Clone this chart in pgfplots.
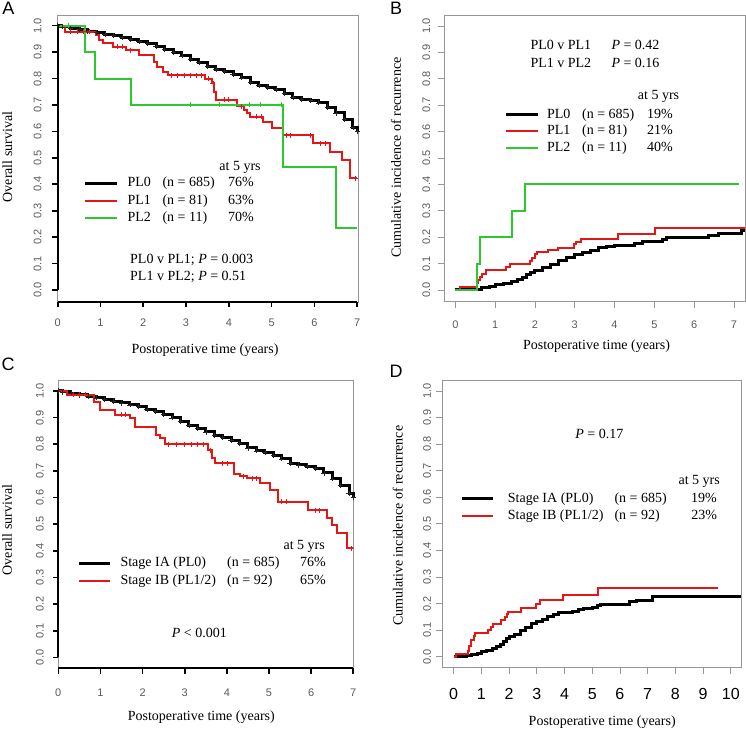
\documentclass[border=0pt]{standalone}
\usepackage{fontspec}
\setmainfont{Liberation Serif}
\newfontfamily\arial{Liberation Sans}
\usepackage{pgfplots}
\usepackage{pgfplotstable}
\pgfplotsset{compat=1.18}

\definecolor{kmred}{RGB}{228,22,22}
\definecolor{kmgreen}{RGB}{45,200,45}
\definecolor{boxgray}{RGB}{150,150,150}
\definecolor{labgray}{RGB}{90,90,90}

\newcommand{\tf}{\fontsize{14}{16}\selectfont}
\newcommand{\tkf}{\arial\fontsize{11}{12}\selectfont}

% overall survival, PL0 (used in A and C)
\pgfplotstableread{
x y
0 1.000
0.1 0.996
0.3 0.990
0.5 0.985
0.7 0.979
0.9 0.974
1.1 0.968
1.3 0.962
1.5 0.955
1.7 0.948
1.9 0.941
2.1 0.932
2.3 0.922
2.5 0.911
2.7 0.899
2.9 0.886
3.1 0.872
3.3 0.860
3.5 0.846
3.7 0.834
3.9 0.826
4.1 0.815
4.3 0.803
4.5 0.786
4.7 0.775
4.9 0.768
5.1 0.758
5.3 0.745
5.5 0.729
5.7 0.722
5.9 0.718
6.1 0.708
6.3 0.692
6.5 0.670
6.7 0.645
6.9 0.615
7.0 0.600
}\osPLzero

\pgfplotstableread{
x y
0 1.000
0.18 0.977
0.90 0.965
0.97 0.946
1.05 0.933
1.30 0.920
1.60 0.908
1.90 0.889
2.25 0.864
2.31 0.845
2.45 0.826
2.58 0.813
3.45 0.800
3.60 0.782
3.66 0.750
3.70 0.720
4.18 0.695
4.35 0.680
4.42 0.668
4.50 0.656
4.80 0.637
5.00 0.612
5.27 0.586
5.97 0.555
6.36 0.523
6.64 0.492
6.83 0.422
7.00 0.422
}\osPLone

\pgfplotstableread{
x y
0.30 0.977
0.45 0.977
0.60 0.977
0.75 0.977
1.40 0.920
1.50 0.920
1.70 0.908
2.65 0.813
2.80 0.813
2.95 0.813
3.10 0.813
3.25 0.813
3.35 0.813
3.52 0.800
3.63 0.782
3.90 0.720
4.00 0.720
4.30 0.695
4.65 0.656
4.75 0.656
5.35 0.586
5.45 0.586
5.90 0.586
6.15 0.555
6.25 0.555
6.95 0.422
}\osPLonecens

\pgfplotstableread{
x y
0 1.0
0.64 0.9
0.87 0.8
1.71 0.7
5.26 0.467
6.50 0.233
7.00 0.233
}\osPLtwo

\pgfplotstableread{
x y
0.25 1.0
3.09 0.7
3.79 0.7
4.49 0.7
4.73 0.7
5.23 0.7
}\osPLtwocens

\pgfplotstableread{
x y
0 1.000
0.20 0.985
0.85 0.960
0.99 0.930
1.34 0.910
1.70 0.897
1.82 0.866
2.31 0.835
2.41 0.822
2.53 0.800
3.55 0.778
3.65 0.750
3.72 0.728
4.17 0.690
4.30 0.680
4.47 0.672
4.79 0.653
5.02 0.628
5.22 0.584
5.93 0.553
6.37 0.522
6.49 0.497
6.61 0.466
6.84 0.409
7.00 0.409
}\osIB

\pgfplotstableread{
x y
0.35 0.985
0.50 0.985
0.65 0.985
1.50 0.910
1.60 0.910
2.60 0.800
2.80 0.800
3.00 0.800
3.15 0.800
3.30 0.800
3.45 0.800
3.60 0.778
3.90 0.728
4.00 0.728
4.38 0.680
4.60 0.672
4.70 0.672
5.30 0.584
5.40 0.584
6.10 0.553
6.20 0.553
6.95 0.409
}\osIBcens

% cumulative incidence of recurrence, PL0 (B shows it to 7.29, D to 10.38)
\pgfplotstableread{
x y
0 0
0.45 0.003
0.65 0.008
0.85 0.014
1.0 0.020
1.2 0.025
1.4 0.031
1.55 0.038
1.7 0.048
1.8 0.058
1.9 0.067
2.0 0.075
2.2 0.085
2.4 0.098
2.6 0.112
2.8 0.124
3.0 0.134
3.2 0.141
3.4 0.151
3.6 0.160
3.8 0.165
4.0 0.168
4.3 0.170
4.5 0.177
4.7 0.182
5.0 0.185
5.2 0.192
5.3 0.197
6.35 0.207
6.6 0.213
7.18 0.227
7.29 0.227
}\cirPLzeroB

\pgfplotstableread{
x y
0 0
0.45 0.003
0.65 0.008
0.85 0.014
1.0 0.020
1.2 0.025
1.4 0.031
1.55 0.038
1.7 0.048
1.8 0.058
1.9 0.067
2.0 0.075
2.2 0.085
2.4 0.098
2.6 0.112
2.8 0.124
3.0 0.134
3.2 0.141
3.4 0.151
3.6 0.160
3.8 0.165
4.0 0.168
4.3 0.170
4.5 0.177
4.7 0.182
5.0 0.185
5.2 0.192
5.3 0.197
6.35 0.207
6.6 0.213
7.18 0.227
10.37 0.227
}\cirPLzeroD

\pgfplotstableread{
x y
0 0
0.12 0.012
0.54 0.025
0.57 0.037
0.62 0.049
0.68 0.062
0.78 0.074
1.28 0.086
1.37 0.099
1.88 0.111
1.93 0.123
1.99 0.136
2.04 0.145
2.33 0.151
2.58 0.160
2.97 0.173
3.02 0.182
3.17 0.195
4.08 0.212
5.02 0.236
7.29 0.236
}\cirPLone

\pgfplotstableread{
x y
0 0
0.54 0.1
0.63 0.2
1.43 0.3
1.74 0.4
7.12 0.4
}\cirPLtwo

\pgfplotstableread{
x y
0 0
0.10 0.009
0.52 0.020
0.56 0.040
0.62 0.063
0.72 0.080
0.76 0.088
1.24 0.100
1.36 0.113
1.42 0.125
1.72 0.138
1.84 0.150
1.92 0.160
1.96 0.169
2.44 0.184
2.98 0.200
3.10 0.213
3.95 0.232
5.21 0.257
9.54 0.257
}\cirIB

\pgfplotsset{
  km/.style={
    scale only axis, anchor=south west, clip=false,
    axis line style={boxgray, line width=0.7pt},
    tick pos=left, tick align=outside,
    major tick length=0pt, tick style={draw=none},
    ytick={0,0.1,0.2,0.3,0.4,0.5,0.6,0.7,0.8,0.9,1},
    yticklabels={0.0,0.1,0.2,0.3,0.4,0.5,0.6,0.7,0.8,0.9,1.0},
    yticklabel style={rotate=90, anchor=south, inner sep=0pt, font=\tkf, text=labgray},
    xticklabel style={anchor=north, inner sep=0pt, font=\tkf, text=labgray},
    legend cell align=left,
    legend style={draw=none, fill=none, inner sep=0pt, anchor=north west, font=\tf,
      nodes={inner sep=0pt, text height=10.5pt, text depth=3.5pt}},
  },
  % tick marks and axis lines, drawn as plots so they follow the axis scaling
  ytk/.style={forget plot, only marks, mark=-, mark size=#1, mark options={line width=1.6pt}, black},
  xtk/.style={forget plot, only marks, mark=|, mark size=#1, mark options={line width=1.6pt}, black},
  ytkg/.style={forget plot, only marks, mark=-, mark size=3pt, mark options={line width=0.7pt}, boxgray},
  xtkg/.style={forget plot, only marks, mark=|, mark size=3pt, mark options={line width=0.7pt}, boxgray},
  axl/.style={forget plot, black, line width=2.2pt, line cap=butt},
}
\tikzset{
  lab/.style={font=\tf, inner sep=0pt, text height=9.3pt, text depth=0pt},
  letter/.style={font=\arial\fontsize{18}{20}\selectfont, inner sep=0pt, text height=12.9pt, text depth=0pt},
}

\begin{document}
\begin{tikzpicture}
\useasboundingbox (0pt,0pt) rectangle (746pt,730pt);

% ---------------- A
\begin{axis}[km,
  at={(57.7pt,428pt)}, width=300.3pt, height=287pt,
  xmin=0, xmax=7.02, ymin=-0.0454, ymax=1.0405,
  xtick={0,1,2,3,4,5,6,7}, xticklabels={0,1,2,3,4,5,6,7},
  yticklabel shift=16pt, xticklabel shift=17pt,
  legend image code/.code={\draw[#1] (0pt,0pt) -- (32pt,0pt);},
  legend style={at={(0.0843,0.438)}, column sep=9.3pt, row sep=3.5pt}]
\addplot[black, line width=3pt, const plot] table {\osPLzero};
\addlegendentry{\makebox[35pt][l]{PL0}\makebox[63pt][l]{(n = 685)}\makebox[28.4pt][r]{76\%}}
\addplot[kmred, line width=2pt, const plot] table {\osPLone};
\addlegendentry{\makebox[35pt][l]{PL1}\makebox[63pt][l]{(n = 81)}\makebox[28.4pt][r]{63\%}}
\addplot[kmgreen, line width=2pt, const plot] table {\osPLtwo};
\addlegendentry{\makebox[35pt][l]{PL2}\makebox[63pt][l]{(n = 11)}\makebox[28.4pt][r]{70\%}}
\addplot[forget plot, only marks, mark=+, mark size=2.6pt, black!85, line width=0.5pt] table {\osPLzero};
\addplot[forget plot, only marks, mark=+, mark size=2.5pt, kmred, line width=0.7pt] table {\osPLonecens};
\addplot[forget plot, only marks, mark=+, mark size=2.5pt, kmgreen, line width=0.7pt] table {\osPLtwocens};
\addplot[axl] coordinates {(0,0) (0,1)};
\addplot[axl] coordinates {(0,-0.0454) (7,-0.0454)};
\addplot[ytk=2.75pt] coordinates {(-0.064,0) (-0.064,0.1) (-0.064,0.2) (-0.064,0.3) (-0.064,0.4) (-0.064,0.5) (-0.064,0.6) (-0.064,0.7) (-0.064,0.8) (-0.064,0.9) (-0.064,1)};
\addplot[xtk=2.75pt] coordinates {(0,-0.0558) (1,-0.0558) (2,-0.0558) (3,-0.0558) (4,-0.0558) (5,-0.0558) (6,-0.0558) (7,-0.0558)};
\end{axis}

% ---------------- B
\begin{axis}[km,
  at={(444pt,428.3pt)}, width=301.7pt, height=286.7pt,
  xmin=-0.284, xmax=7.296, ymin=-0.0443, ymax=1.0417,
  xtick={0,1,2,3,4,5,6,7}, xticklabels={0,1,2,3,4,5,6,7},
  yticklabel shift=13.6pt, xticklabel shift=19.3pt,
  legend image code/.code={\draw[#1] (0pt,0pt) -- (31.6pt,0pt);},
  legend style={at={(0.201,0.678)}, column sep=7.7pt, row sep=2.7pt}]
\addplot[black, line width=3pt, const plot] table {\cirPLzeroB};
\addlegendentry{\makebox[35pt][l]{PL0}\makebox[63pt][l]{(n = 685)}\makebox[27.7pt][r]{19\%}}
\addplot[kmred, line width=2pt, const plot] table {\cirPLone};
\addlegendentry{\makebox[35pt][l]{PL1}\makebox[63pt][l]{(n = 81)}\makebox[27.7pt][r]{21\%}}
\addplot[kmgreen, line width=2pt, const plot] table {\cirPLtwo};
\addlegendentry{\makebox[35pt][l]{PL2}\makebox[63pt][l]{(n = 11)}\makebox[27.7pt][r]{40\%}}
\addplot[ytkg] coordinates {(-0.359,0) (-0.359,0.1) (-0.359,0.2) (-0.359,0.3) (-0.359,0.4) (-0.359,0.5) (-0.359,0.6) (-0.359,0.7) (-0.359,0.8) (-0.359,0.9) (-0.359,1)};
\addplot[xtkg] coordinates {(0,-0.0557) (1,-0.0557) (2,-0.0557) (3,-0.0557) (4,-0.0557) (5,-0.0557) (6,-0.0557) (7,-0.0557)};
\end{axis}

% ---------------- C
\begin{axis}[km,
  at={(58.3pt,61.7pt)}, width=295pt, height=288.3pt,
  xmin=0, xmax=7, ymin=-0.041, ymax=1.041,
  xtick={0,1,2,3,4,5,6,7}, xticklabels={0,1,2,3,4,5,6,7},
  yticklabel shift=14.4pt, xticklabel shift=20.5pt,
  legend image code/.code={\draw[#1] (0pt,0pt) -- (31pt,0pt);},
  legend style={at={(0.0644,0.3885)}, column sep=9pt, row sep=3.4pt}]
\addplot[black, line width=3pt, const plot] table {\osPLzero};
\addlegendentry{\makebox[106.7pt][l]{Stage IA (PL0)}\makebox[70pt][l]{(n = 685)}\makebox[28.7pt][r]{76\%}}
\addplot[kmred, line width=2pt, const plot] table {\osIB};
\addlegendentry{\makebox[106.7pt][l]{Stage IB (PL1/2)}\makebox[70pt][l]{(n = 92)}\makebox[28.7pt][r]{65\%}}
\addplot[forget plot, only marks, mark=+, mark size=2.6pt, black!85, line width=0.5pt] table {\osPLzero};
\addplot[forget plot, only marks, mark=+, mark size=2.5pt, kmred, line width=0.7pt] table {\osIBcens};
\addplot[axl] coordinates {(0,0) (0,1)};
\addplot[axl] coordinates {(0,-0.041) (7,-0.041)};
\addplot[ytk=2.75pt] coordinates {(-0.065,0) (-0.065,0.1) (-0.065,0.2) (-0.065,0.3) (-0.065,0.4) (-0.065,0.5) (-0.065,0.6) (-0.065,0.7) (-0.065,0.8) (-0.065,0.9) (-0.065,1)};
\addplot[xtk=2.75pt] coordinates {(0,-0.0513) (1,-0.0513) (2,-0.0513) (3,-0.0513) (4,-0.0513) (5,-0.0513) (6,-0.0513) (7,-0.0513)};
\end{axis}

% ---------------- D
\begin{axis}[km,
  at={(442.3pt,62.3pt)}, width=299pt, height=287.7pt,
  xmin=-0.41, xmax=10.38, ymin=-0.041, ymax=1.041,
  xtick={0,1,2,3,4,5,6,7,8,9,10}, xticklabels={0,1,2,3,4,5,6,7,8,9,10},
  xticklabel style={font=\arial\fontsize{16}{18}\selectfont, text=black},
  yticklabel shift=11.1pt, xticklabel shift=20.9pt,
  legend image code/.code={\draw[#1] (0pt,0pt) -- (31pt,0pt);},
  legend style={at={(0.0602,0.613)}, column sep=13.4pt, row sep=3.7pt}]
\addplot[black, line width=3pt, const plot] table {\cirPLzeroD};
\addlegendentry{\makebox[106.6pt][l]{Stage IA (PL0)}\makebox[74pt][l]{(n = 685)}\makebox[28.4pt][r]{19\%}}
\addplot[kmred, line width=2pt, const plot] table {\cirIB};
\addlegendentry{\makebox[106.6pt][l]{Stage IB (PL1/2)}\makebox[74pt][l]{(n = 92)}\makebox[28.4pt][r]{23\%}}
\addplot[ytkg] coordinates {(-0.518,0) (-0.518,0.1) (-0.518,0.2) (-0.518,0.3) (-0.518,0.4) (-0.518,0.5) (-0.518,0.6) (-0.518,0.7) (-0.518,0.8) (-0.518,0.9) (-0.518,1)};
\addplot[xtkg] coordinates {(0,-0.0523) (1,-0.0523) (2,-0.0523) (3,-0.0523) (4,-0.0523) (5,-0.0523) (6,-0.0523) (7,-0.0523) (8,-0.0523) (9,-0.0523) (10,-0.0523)};
\end{axis}

% ---------------- texts
\node[letter] at (8.3pt,721.7pt) {A};
\node[letter] at (396pt,722pt) {B};
\node[letter] at (8pt,365.5pt) {C};
\node[letter] at (396pt,359pt) {D};

\node[lab] at (205pt,381.4pt) {Postoperative time (years)};
\node[lab, rotate=90] at (7.5pt,573pt) {Overall survival};
\node[lab] at (240pt,563.7pt) {at 5 yrs};
\node[lab, anchor=west] at (130pt,471.2pt) {PL0 v PL1; \textit{P} = 0.003};
\node[lab, anchor=west] at (130pt,453.8pt) {PL1 v PL2; \textit{P} = 0.51};

\node[lab, anchor=west] at (530.3pt,685pt) {PL0 v PL1};
\node[lab, anchor=west] at (611.3pt,685pt) {\textit{P} = 0.42};
\node[lab, anchor=west] at (530.3pt,667.3pt) {PL1 v PL2};
\node[lab, anchor=west] at (611.3pt,667.3pt) {\textit{P} = 0.16};
\node[lab] at (658.5pt,634.7pt) {at 5 yrs};
\node[lab] at (596.5pt,384.7pt) {Postoperative time (years)};
\node[lab, rotate=90] at (396.3pt,572.4pt) {Cumulative incidence of recurrence};

\node[lab] at (201.3pt,14.1pt) {Postoperative time (years)};
\node[lab, rotate=90] at (7.3pt,200pt) {Overall survival};
\node[lab] at (304.2pt,184.7pt) {at 5 yrs};
\node[lab] at (199.3pt,97.3pt) {\textit{P} < 0.001};

\node[lab] at (599.3pt,295.7pt) {\textit{P} = 0.17};
\node[lab] at (699.2pt,249.7pt) {at 5 yrs};
\node[lab] at (602.2pt,9.1pt) {Postoperative time (years)};
\node[lab, rotate=90] at (398pt,204.2pt) {Cumulative incidence of recurrence};
\end{tikzpicture}
\end{document}
